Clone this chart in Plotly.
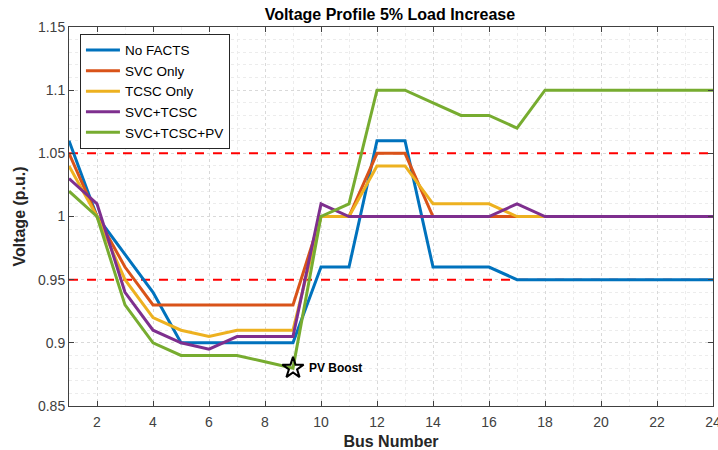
import plotly.graph_objects as go

bus = list(range(1, 25))
no_facts = [1.06, 1.00, 0.97, 0.94, 0.90, 0.90, 0.90, 0.90, 0.90, 0.96, 0.96, 1.06,
            1.06, 0.96, 0.96, 0.96, 0.95, 0.95, 0.95, 0.95, 0.95, 0.95, 0.95, 0.95]
svc_only = [1.05, 1.00, 0.96, 0.93, 0.93, 0.93, 0.93, 0.93, 0.93, 1.00, 1.00, 1.05,
            1.05, 1.00, 1.00, 1.00, 1.00, 1.00, 1.00, 1.00, 1.00, 1.00, 1.00, 1.00]
tcsc_only = [1.04, 1.00, 0.95, 0.92, 0.91, 0.905, 0.91, 0.91, 0.91, 1.00, 1.00, 1.04,
             1.04, 1.01, 1.01, 1.01, 1.00, 1.00, 1.00, 1.00, 1.00, 1.00, 1.00, 1.00]
svc_tcsc = [1.03, 1.01, 0.94, 0.91, 0.90, 0.895, 0.905, 0.905, 0.905, 1.01, 1.00, 1.00,
            1.00, 1.00, 1.00, 1.00, 1.01, 1.00, 1.00, 1.00, 1.00, 1.00, 1.00, 1.00]
svc_tcsc_pv = [1.02, 1.00, 0.93, 0.90, 0.89, 0.89, 0.89, 0.885, 0.88, 1.00, 1.01, 1.10,
               1.10, 1.09, 1.08, 1.08, 1.07, 1.10, 1.10, 1.10, 1.10, 1.10, 1.10, 1.10]

series_names = ["No FACTS", "SVC Only", "TCSC Only", "SVC+TCSC", "SVC+TCSC+PV"]
series_vals = [no_facts, svc_only, tcsc_only, svc_tcsc, svc_tcsc_pv]
colors = ["#0072BD", "#D95319", "#EDB120", "#7E2F8E", "#77AC30"]

x_ticks = [2, 4, 6, 8, 10, 12, 14, 16, 18, 20, 22, 24]
y_ticks = [0.85, 0.9, 0.95, 1.0, 1.05, 1.1, 1.15]
y_ticktext = ["0.85", "0.9", "0.95", "1", "1.05", "1.1", "1.15"]

upper_limit = 1.05
lower_limit = 0.95
boost_bus = 9
boost_v = 0.88

FONT = "Liberation Sans, Arial, sans-serif"
fig = go.Figure()

for lim in [upper_limit, lower_limit]:
    fig.add_trace(go.Scatter(x=[bus[0], bus[-1]], y=[lim, lim], mode="lines",
                             line=dict(color="#FF0000", width=2, dash="dash"),
                             showlegend=False, hoverinfo="skip"))

for name, vals, c in zip(series_names, series_vals, colors):
    fig.add_trace(go.Scatter(x=bus, y=vals, mode="lines", name=name,
                             line=dict(color=c, width=3)))

fig.add_trace(go.Scatter(x=[boost_bus], y=[boost_v], mode="markers", showlegend=False,
                         marker=dict(symbol="star-open", size=16, color="black",
                                     line=dict(width=2, color="black"))))

fig.add_annotation(x=boost_bus, y=boost_v, text="<b>PV Boost</b>", showarrow=False,
                   xanchor="left", yanchor="middle", xshift=14,
                   font=dict(family=FONT, size=12, color="black"))

axis_common = dict(showline=True, linecolor="#404040", linewidth=1, mirror="ticks",
                   ticks="inside", ticklen=5, tickcolor="#404040",
                   showgrid=True, gridcolor="#d9d9d9", griddash="dot", gridwidth=1,
                   zeroline=False, automargin=False, ticklabeloverflow="allow",
                   tickfont=dict(family=FONT, size=14, color="#404040"))

fig.update_xaxes(range=[1, 24], tickvals=x_ticks, ticktext=[str(t) for t in x_ticks],
                 ticklabelstandoff=3,
                 minor=dict(dtick=1, showgrid=True, gridcolor="#ececec", griddash="dot"),
                 title=dict(text="<b>Bus Number</b>", font=dict(family=FONT, size=16, color="#262626"),
                            standoff=7),
                 **axis_common)
fig.update_yaxes(range=[0.85, 1.15], tickvals=y_ticks, ticktext=y_ticktext,
                 minor=dict(dtick=0.01, showgrid=True, gridcolor="#ececec", griddash="dot"),
                 title=dict(text="<b>Voltage (p.u.)</b>", font=dict(family=FONT, size=16, color="#262626"),
                            standoff=8),
                 **axis_common)

fig.update_layout(
    width=718, height=450,
    margin=dict(l=69, r=5, t=27, b=44),
    paper_bgcolor="white", plot_bgcolor="white",
    title=dict(text="<b>Voltage Profile 5% Load Increase</b>", x=0.543, xanchor="center",
               yref="container", y=0.967, yanchor="middle",
               font=dict(family=FONT, size=16, color="black")),
    legend=dict(x=0.017, y=0.982, xanchor="left", yanchor="top",
                bgcolor="white", bordercolor="#262626", borderwidth=1,
                font=dict(family=FONT, size=13.5, color="black"),
                itemwidth=34, tracegroupgap=0),
    showlegend=True,
)

fig.write_html("out.html")
